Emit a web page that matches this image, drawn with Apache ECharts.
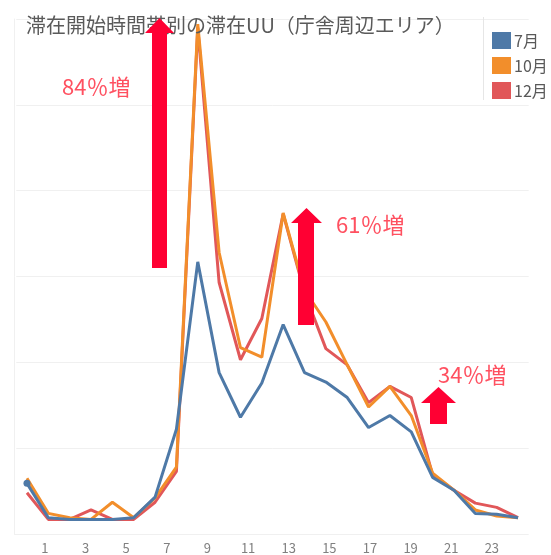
<!DOCTYPE html>
<html><head><meta charset="utf-8">
<script src="https://cdn.jsdelivr.net/npm/echarts@6/dist/echarts.min.js"></script>
<style>html,body{margin:0;padding:0;background:#fff}#c{width:551px;height:555px}</style>
</head><body><div id="c"></div>
<script>
const hours = ['0','1','2','3','4','5','6','7','8','9','10','11','12','13','14','15','16','17','18','19','20','21','22','23'];
const seriesNames = ['7月','10月','12月'];
const jul = [5.9,1.9,1.7,1.7,1.7,1.9,4.3,12.2,31.7,18.8,13.6,17.6,24.4,18.8,17.7,15.9,12.4,13.8,11.9,6.6,5.1,2.4,2.3,1.9];
const oct = [6.5,2.4,1.9,1.7,3.7,1.9,4.2,7.8,59.4,32.8,21.7,20.6,37.4,28.4,24.7,19.7,14.8,17.2,13.8,7.1,5.1,2.8,2.1,1.9];
const dec = [4.8,1.7,1.7,2.8,1.7,1.7,3.7,7.3,59.0,29.3,20.3,25.1,37.3,28.1,21.6,19.7,15.3,17.2,15.9,6.9,5.1,3.6,3.1,1.9];
const annotations = ['84％増','61％増','34％増'];
const titleText = '滞在開始時間帯別の滞在UU（庁舎周辺エリア）';

const colors = ['#4e79a7','#f28e2b','#e15759'];
const font = '"Noto Sans CJK JP", "Noto Sans", sans-serif';
const faint = '#f0f0f0';
const chart = echarts.init(document.getElementById('c'));

function arrow(x1, x2, yBottom, hx1, hx2, yBase, yTip) {
  const cx = (hx1 + hx2) / 2;
  return {type:'polygon', z:100, shape:{points:[[x1,yBottom],[x1,yBase],[hx1,yBase],[cx,yTip],[hx2,yBase],[x2,yBase],[x2,yBottom]]}, style:{fill:'#ff0033'}};
}
function ann(txt, x, y) {
  return {type:'text', z:100, left:x, top:y, style:{text:txt, fill:'#ff5060', font:'22px ' + font}};
}

chart.setOption({
  animation:false,
  title:{text:titleText, left:21, top:10, textStyle:{color:'#5a5a5a', fontSize:20, fontWeight:'normal', fontFamily:font}},
  legend:{data:seriesNames, orient:'vertical', left:487, top:27, icon:'rect', itemWidth:19, itemHeight:17, itemGap:8,
    textStyle:{color:'#595959', fontSize:16, fontFamily:font, padding:[0,0,0,-2]}},
  grid:[
    {left:14.5, right:49, top:19, bottom:21},
    {left:16.3, right:22.3, top:19, bottom:21}
  ],
  xAxis:[
    {type:'category', gridIndex:0, data:hours, boundaryGap:true,
      axisLine:{show:true, lineStyle:{color:faint}}, axisTick:{show:false},
      axisLabel:{interval:function(i){return i%2===1;}, color:'#808080', fontSize:13, margin:8, fontFamily:font}},
    {type:'category', gridIndex:1, data:hours, boundaryGap:true, show:false}
  ],
  yAxis:[
    {type:'value', gridIndex:0, min:0, max:60, interval:10, axisLabel:{show:false}, axisTick:{show:false},
      axisLine:{show:true, lineStyle:{color:faint}}, splitLine:{show:false}},
    {type:'value', gridIndex:1, min:0, max:60, interval:10, axisLabel:{show:false}, axisTick:{show:false},
      axisLine:{show:false}, splitLine:{show:true, lineStyle:{color:faint}}}
  ],
  series:[
    {name:seriesNames[0], type:'line', xAxisIndex:1, yAxisIndex:1, z:5, color:colors[0], showSymbol:true, symbol:'none',
      lineStyle:{width:3}, data:jul.map((v,i)=> i===0 ? {value:v, symbol:'circle', symbolSize:7} : v)},
    {name:seriesNames[1], type:'line', xAxisIndex:1, yAxisIndex:1, z:4, color:colors[1], symbol:'none',
      lineStyle:{width:3}, data:oct},
    {name:seriesNames[2], type:'line', xAxisIndex:1, yAxisIndex:1, z:3, color:colors[2], symbol:'none',
      lineStyle:{width:3}, data:dec}
  ],
  graphic:[
    {type:'line', z:10, shape:{x1:483.5, y1:17, x2:483.5, y2:100}, style:{stroke:'#e6e6e6', lineWidth:1}},
    arrow(152, 167, 268, 145, 174, 33, 18),
    arrow(298, 314, 325, 291, 322, 223, 208),
    arrow(430, 447, 424, 421, 456, 403, 387),
    ann(annotations[0], 62, 76),
    ann(annotations[1], 336, 214),
    ann(annotations[2], 438, 364)
  ]
});
</script></body></html>
